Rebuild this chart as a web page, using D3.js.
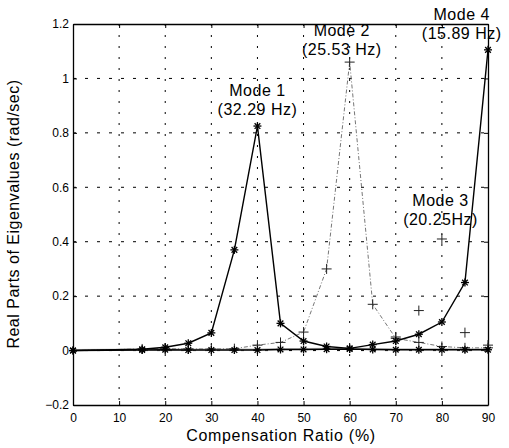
<!DOCTYPE html>
<html>
<head>
<meta charset="utf-8">
<script src="https://cdn.jsdelivr.net/npm/d3@7"></script>
<style>
  body { margin: 0; background: #fff; }
  svg text { font-family: "Liberation Sans", Arial, sans-serif; fill: #000; }
</style>
</head>
<body>
<div id="container"></div>
<script>
// compensation ratio (%) where eigenvalues were computed
const ratios = [0, 15, 20, 25, 30, 35, 40, 45, 50, 55, 60, 65, 70, 75, 80, 85, 90];

// solid curve with * markers (mode 1 peak, then mode 4)
const upper = [0, 0.005, 0.012, 0.027, 0.065, 0.37, 0.825, 0.10, 0.035, 0.015, 0.008, 0.022, 0.035, 0.06, 0.105, 0.25, 1.105];
// solid curve with * markers staying near zero
const lower = [0, 0.002, 0.003, 0.002, 0.002, 0.002, 0.002, 0.004, 0.004, 0.005, 0.006, 0.004, 0.003, 0.003, 0.003, 0.003, 0.003];
// dash-dot curve with + markers (mode 2)
const mode2 = [0, 0.006, 0.007, 0.006, 0.006, 0.007, 0.02, 0.03, 0.068, 0.30, 1.06, 0.17, 0.045, 0.03, 0.015, 0.01, 0.01];
// isolated + points (mode 3)
const mode3X = [70, 75, 80, 85, 90];
const mode3 = [0.05, 0.147, 0.41, 0.066, 0.02];

const xTicks = [0, 10, 20, 30, 40, 50, 60, 70, 80, 90];
const yTicks = [-0.2, 0, 0.2, 0.4, 0.6, 0.8, 1, 1.2];

const labels = [
  { x: 40, y: 0.935, lines: ["Mode 1", "(32.29 Hz)"] },
  { x: 58.3, y: 1.155, lines: ["Mode 2", "(25.53 Hz)"] },
  { x: 79.7, y: 0.53, lines: ["Mode 3", "(20.25Hz)"] },
  { x: 84.3, y: 1.215, lines: ["Mode 4", "(15.89 Hz)"] }
];

const width = 509, height = 448;
const margin = { top: 24, right: 21, bottom: 43, left: 73 };

const svg = d3.select("#container").append("svg")
  .attr("width", width)
  .attr("height", height);

const x = d3.scaleLinear().domain([0, 90]).range([margin.left, width - margin.right]);
const y = d3.scaleLinear().domain([-0.2, 1.2]).range([height - margin.bottom, margin.top]);

// grid
svg.append("g")
  .selectAll("line.vg")
  .data(xTicks.slice(1, -1))
  .join("line")
  .attr("x1", d => x(d)).attr("x2", d => x(d))
  .attr("y1", y(1.2)).attr("y2", y(-0.2))
  .attr("stroke", "#000").attr("stroke-width", 1)
  .attr("stroke-dasharray", "2,9");
svg.append("g")
  .selectAll("line.hg")
  .data(yTicks.slice(1, -1))
  .join("line")
  .attr("x1", x(0)).attr("x2", x(90))
  .attr("y1", d => y(d)).attr("y2", d => y(d))
  .attr("stroke", "#000").attr("stroke-width", 1)
  .attr("stroke-dasharray", "3,9");

// axes (ticks pointing inward, box all around)
svg.append("g")
  .attr("transform", `translate(0,${y(-0.2)})`)
  .call(d3.axisBottom(x).tickValues(xTicks).tickSize(-4).tickPadding(8).tickSizeOuter(0))
  .call(g => g.selectAll("text").attr("font-size", 12));
svg.append("g")
  .attr("transform", `translate(0,${y(1.2)})`)
  .call(d3.axisTop(x).tickValues(xTicks).tickSize(-4).tickFormat("").tickSizeOuter(0));
svg.append("g")
  .attr("transform", `translate(${x(0)},0)`)
  .call(d3.axisLeft(y).tickValues(yTicks).tickSize(-4).tickPadding(4).tickSizeOuter(0).tickFormat(d3.format("~g")))
  .call(g => g.selectAll("text").attr("font-size", 12));
svg.append("g")
  .attr("transform", `translate(${x(90)},0)`)
  .call(d3.axisRight(y).tickValues(yTicks).tickSize(-4).tickFormat("").tickSizeOuter(0));
svg.selectAll(".domain").attr("stroke", "#000").attr("stroke-width", 1.3);

const line = d3.line().x(d => x(d[0])).y(d => y(d[1]));
const pairs = (xs, vs) => xs.map((v, i) => [v, vs[i]]);

// faint grey trace near zero
svg.append("path")
  .datum(pairs(ratios, lower.map(v => v + 0.002)))
  .attr("d", line)
  .attr("fill", "none").attr("stroke", "#bbb").attr("stroke-width", 2);

svg.append("path")
  .datum(pairs(ratios, mode2))
  .attr("d", line)
  .attr("fill", "none").attr("stroke", "#777").attr("stroke-width", 1)
  .attr("stroke-dasharray", "4,2,1,2");

svg.append("path")
  .datum(pairs(ratios, lower))
  .attr("d", line)
  .attr("fill", "none").attr("stroke", "#000").attr("stroke-width", 1.4);

svg.append("path")
  .datum(pairs(ratios, upper))
  .attr("d", line)
  .attr("fill", "none").attr("stroke", "#000").attr("stroke-width", 1.4);

// markers: * drawn as four crossing strokes, + as two
function drawStars(data) {
  const g = svg.append("g");
  data.forEach(([a, b]) => {
    const cx = x(a), cy = y(b), r = 4;
    for (let k = 0; k < 4; k++) {
      const ang = k * Math.PI / 4;
      g.append("line")
        .attr("x1", cx - r * Math.cos(ang)).attr("y1", cy - r * Math.sin(ang))
        .attr("x2", cx + r * Math.cos(ang)).attr("y2", cy + r * Math.sin(ang))
        .attr("stroke", "#000").attr("stroke-width", 1.3);
    }
  });
}
function drawPlus(data, col) {
  const g = svg.append("g");
  data.forEach(([a, b]) => {
    const cx = x(a), cy = y(b), r = 5;
    g.append("line").attr("x1", cx - r).attr("x2", cx + r).attr("y1", cy).attr("y2", cy)
      .attr("stroke", col).attr("stroke-width", 1);
    g.append("line").attr("x1", cx).attr("x2", cx).attr("y1", cy - r).attr("y2", cy + r)
      .attr("stroke", col).attr("stroke-width", 1);
  });
}
drawPlus(pairs(ratios, mode2).filter(d => d[0] > 0), "#222");
drawPlus(pairs(mode3X, mode3), "#222");
drawStars(pairs(ratios, lower));
drawStars(pairs(ratios, upper));

// mode annotations
labels.forEach(l => {
  const t = svg.append("text")
    .attr("text-anchor", "middle")
    .attr("font-size", 16)
    .attr("letter-spacing", 0.5);
  l.lines.forEach((s, i) => {
    t.append("tspan").attr("x", x(l.x)).attr("y", y(l.y) + i * 19).text(s);
  });
});

// axis titles
svg.append("text")
  .attr("x", 281).attr("y", 441)
  .attr("text-anchor", "middle")
  .attr("font-size", 16).attr("letter-spacing", 0.7)
  .text("Compensation Ratio (%)");
svg.append("text")
  .attr("transform", "translate(19,214) rotate(-90)")
  .attr("text-anchor", "middle")
  .attr("font-size", 16).attr("letter-spacing", 0.5)
  .text("Real Parts of Eigenvalues (rad/sec)");
</script>
</body>
</html>
